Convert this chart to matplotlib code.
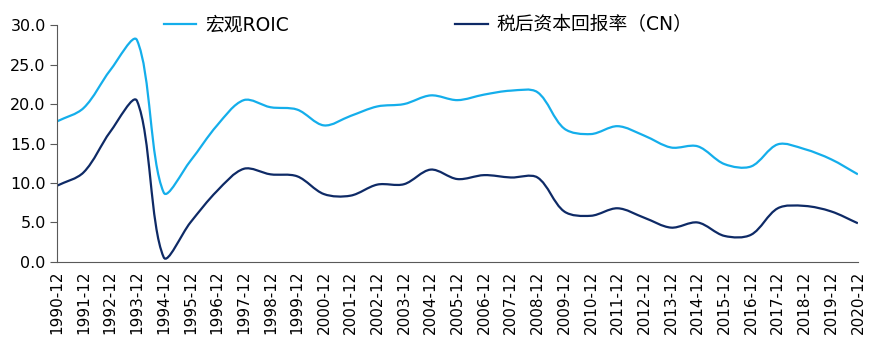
import matplotlib
matplotlib.use("Agg")
import matplotlib.pyplot as plt
import numpy as np
from matplotlib.path import Path
from matplotlib.patches import PathPatch
from matplotlib.lines import Line2D

plt.rcParams['font.family'] = ['DejaVu Sans', 'Noto Sans CJK SC']

years = [f"{y}-12" for y in range(1990, 2021)]
roic = [17.8, 19.5, 24.3, 28.1, 8.8, 12.8, 17.3, 20.5, 19.6, 19.3,
        17.3, 18.5, 19.7, 20.0, 21.1, 20.5, 21.2, 21.7, 21.5, 16.9,
        16.2, 17.2, 16.0, 14.5, 14.65, 12.4, 12.1, 14.9, 14.3, 13.0, 11.1]
cn = [9.65, 11.35, 16.5, 20.4, 0.6, 5.0, 9.0, 11.8, 11.1, 10.85,
      8.6, 8.4, 9.8, 9.85, 11.7, 10.5, 11.0, 10.7, 10.7, 6.4,
      5.85, 6.8, 5.6, 4.35, 5.0, 3.3, 3.45, 6.8, 7.1, 6.4, 4.9]
names = ["宏观ROIC", "税后资本回报率（CN）"]
colors = ["#14AEEB", "#0E2A66"]
yticks = [0, 5, 10, 15, 20, 25, 30]

# approximate pixel size of one data unit, used only to shape the smoothing
SX, SY = 26.7, 7.87


def smooth_path(xs, ys, t=0.33):
    pts = np.column_stack([np.asarray(xs, float) * SX, np.asarray(ys, float) * SY])
    n = len(pts)
    verts = [pts[0]]
    codes = [Path.MOVETO]
    for i in range(n - 1):
        p0 = pts[i - 1] if i > 0 else pts[i]
        p1 = pts[i]
        p2 = pts[i + 1]
        p3 = pts[i + 2] if i + 2 < n else pts[i + 1]
        d01 = np.linalg.norm(p1 - p0)
        d12 = np.linalg.norm(p2 - p1)
        d23 = np.linalg.norm(p3 - p2)
        f1 = d12 / (d01 + d12) if d01 + d12 > 0 else 0
        f2 = d12 / (d12 + d23) if d12 + d23 > 0 else 0
        c1 = p1 + t * (p2 - p0) * f1
        c2 = p2 - t * (p3 - p1) * f2
        verts += [c1, c2, p2]
        codes += [Path.CURVE4] * 3
    verts = np.array(verts) / np.array([SX, SY])
    return Path(verts, codes)


fig = plt.figure(figsize=(8.89, 3.54), dpi=100)
ax = fig.add_axes([0.064, 0.26, 0.901, 0.669])
x = np.arange(len(years))
for ys, c in zip([roic, cn], colors):
    patch = PathPatch(smooth_path(x, ys), facecolor='none', edgecolor=c, lw=1.6)
    ax.add_patch(patch)

ax.set_xlim(0, len(years) - 1)
ax.set_ylim(0, 30)
ax.set_yticks(yticks)
ax.set_yticklabels([f"{v:.1f}" for v in yticks], fontsize=11.5)
ax.set_xticks(x)
ax.set_xticklabels(years, rotation=90, fontsize=11)
ax.tick_params(axis='x', length=0, pad=6)
ax.tick_params(axis='y', length=5, color='#595959', pad=3)
for s in ['top', 'right']:
    ax.spines[s].set_visible(False)
for s in ['left', 'bottom']:
    ax.spines[s].set_color('#595959')

handles = [Line2D([], [], color=c, lw=1.6) for c in colors]
fig.legend(handles, names, loc='upper left', bbox_to_anchor=(0.165, 1.005),
           ncol=2, frameon=False, handlelength=1.75,
           columnspacing=8.9, handletextpad=0.45,
           prop={'family': ['DejaVu Sans', 'Noto Sans CJK SC'], 'size': 13.5})

fig.savefig("out.png", dpi=100)
